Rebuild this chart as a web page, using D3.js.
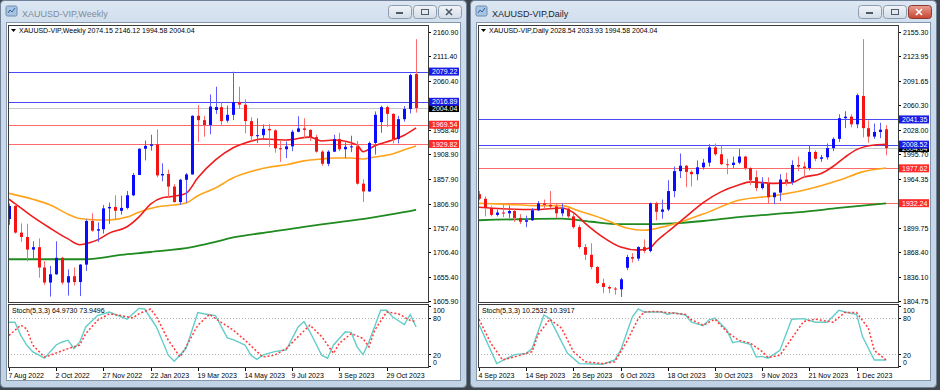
<!DOCTYPE html>
<meta charset="utf-8">
<script src="https://d3js.org/d3.v7.min.js"></script>
<style>
  body { margin: 0; background: #3e454d; }
  text { font-family: "Liberation Sans", Arial, sans-serif; }
</style>
<svg id="chart" width="940" height="390"></svg>
<script>

// ---------------- weekly chart data ----------------
var weeklyOpen  = [1775,1802,1747,1738,1712,1717,1675,1644,1661,1695, 1644,1657,1645,1681,1771,1751,1754,1797,1800,1792,
                   1798,1824,1866,1920,1926,1929,1865,1868,1842,1810, 1856,1867,1988,1979,1969,2000,2006,1978,1990,2016,
                   2011,1977,1946,1948,1961,1958,1921,1919,1925,1955, 1962,1959,1944,1914,1889,1914,1940,1919,1924,1925,
                   1848,1832,1932,1975,2006,1992,1940,1981,2002,2074.15];
var weeklyHigh  = [1807,1806,1766,1765,1729,1735,1688,1678,1729,1697, 1671,1675,1682,1774,1787,1768,1804,1809,1824,1823,
                   1833,1870,1921,1937,1949,1960,1890,1877,1847,1858, 1870,1989,2010,1988,2032,2048,2015,2009,2079,2048,
                   2022,1985,1983,1970,1971,1960,1936,1935,1959,1987, 1983,1960,1949,1917,1917,1949,1953,1933,1947,1936,
                   1857,1935,1997,2009,2009,1993,1988,2008,2075,2146.12];
var weeklyLow   = [1763,1745,1728,1688,1691,1654,1639,1615,1660,1640, 1617,1638,1616,1668,1749,1728,1745,1765,1774,1784,
                   1795,1822,1866,1896,1916,1861,1853,1819,1809,1804, 1809,1867,1934,1945,1950,1992,1969,1974,1979,2002,
                   1952,1936,1932,1939,1924,1912,1893,1901,1915,1954, 1942,1936,1912,1885,1884,1913,1915,1901,1913,1846,
                   1810,1831,1908,1953,1965,1931,1931,1976,1993,1994.58];
var weeklyClose = [1802,1747,1738,1712,1717,1675,1644,1661,1695,1644, 1657,1645,1681,1771,1751,1754,1797,1800,1792,1798,
                   1824,1866,1920,1926,1929,1865,1868,1842,1810,1856, 1867,1988,1979,1969,2007,2006,1977,1990,2016,2011,
                   1977,1946,1948,1961,1958,1921,1920,1925,1955,1962, 1959,1944,1914,1889,1914,1940,1919,1924,1925,1848,
                   1832,1932,1990,2006,1992,1940,1981,2002,2072,2004.04];

// moving averages, [bar index, price]
var weeklyMaFast = [[0,1816],[2,1798],[4,1780],[7,1756],[10,1734],[12,1722],[13,1724],[15,1732],[17,1746],[20,1759],
                    [22,1779],[24,1806],[26,1819],[28,1822],[30,1828],[32,1860],[35,1897],[38,1922],[40,1932],[43,1940],
                    [47,1938],[51,1944],[53,1936],[55,1938],[59,1928],[60,1914],[62,1926],[65,1938],[67,1948],[69,1963]];
var weeklyMaMid  = [[0,1828],[4,1816],[7,1804],[10,1785],[12,1776],[15,1773],[17,1773],[20,1779],[22,1789],[25,1800],
                    [28,1804],[30,1808],[32,1823],[35,1839],[38,1860],[41,1873],[44,1882],[47,1887],[50,1895],[53,1899],
                    [55,1901],[58,1901],[60,1899],[62,1903],[65,1909],[67,1918],[69,1926]];
var weeklyMaSlow = [[0,1692],[13,1692],[19,1701],[24,1707],[31,1717],[35,1728],[38,1737],[44,1748],[50,1759],[55,1767],
                    [61,1777],[65,1785],[69,1794]];

var weeklyStochMain = [[0,73],[1,73],[2,51],[3,35],[4,24],[6,13],[8,35],[9,40],[10,43],[11,29],[12,40],[13,65],[15,84],
                       [17,90],[20,78],[22,96],[23,95],[25,65],[27,18],[28,8],[30,29],[32,89],[33,87],[35,84],[37,47],
                       [38,44],[40,35],[41,18],[42,11],[43,18],[45,24],[47,27],[49,65],[50,74],[51,57],[53,18],[54,13],
                       [55,35],[57,57],[58,56],[59,32],[60,19],[61,40],[63,93],[64,93],[65,82],[67,69],[68,86],[69,65]];
var weeklyStochSignal = [[0,51],[2,68],[3,62],[4,35],[6,15],[7,18],[10,29],[12,35],[13,54],[15,76],[17,87],[19,84],
                         [21,80],[22,87],[24,95],[25,82],[27,43],[29,15],[30,32],[32,68],[34,86],[35,79],[38,60],[40,43],
                         [43,15],[45,18],[47,29],[49,49],[51,68],[53,49],[55,21],[56,38],[58,54],[60,46],[61,32],[62,60],
                         [64,90],[66,87],[68,76],[69,74]];

var weeklyPriceTicks = [2160.90,2111.40,2060.40,2009.40,1958.40,1908.90,1857.90,1806.90,1757.40,1706.40,1655.40,1605.90];
var weeklyDateLabels = ["7 Aug 2022","2 Oct 2022","27 Nov 2022","22 Jan 2023","19 Mar 2023","14 May 2023","9 Jul 2023","3 Sep 2023","29 Oct 2023"];
var weeklyBlueLevels = [2079.22, 2016.89];
var weeklyRedLevels  = [1969.54, 1929.82];

// ---------------- daily chart data ----------------
var dailyOpen  = [1944,1938,1926,1917,1920,1919,1922,1913,1908,1910, 1923,1932,1930,1928,1919,1925,1915,1901,1875,1865,
                  1849,1828,1823,1821,1820,1848,1862,1860,1875,1870, 1932,1921,1924,1948,1974,1981,1973,1970,1979,1985,
                  2005,1996,1983,1982,1985,1993,1978,1966,1952,1958, 1940,1946,1963,1960,1982,1980,1978,1999,1990,1992,
                  2004,2016,2043,2045,2035,2072,2030,2019,2025,2028.54];
var dailyHigh  = [1948,1941,1929,1924,1930,1929,1925,1918,1916,1926, 1935,1937,1948,1932,1932,1926,1918,1904,1879,1880,
                  1850,1834,1825,1823,1835,1865,1867,1876,1885,1933, 1934,1937,1962,1980,1997,1982,1975,1988,1990,2009,
                  2010,2007,1990,1993,2003,1994,1979,1975,1966,1966, 1946,1970,1972,1988,1993,1986,2007,2001,1995,2010,
                  2018,2048,2052,2048,2075,2146,2040,2036,2037,2033.93];
var dailyLow   = [1936,1915,1915,1915,1914,1913,1908,1905,1901,1909, 1922,1926,1925,1913,1915,1913,1899,1873,1858,1846,
                  1827,1815,1815,1813,1810,1845,1855,1857,1867,1868, 1910,1912,1922,1940,1965,1953,1954,1962,1976,1980,
                  1994,1982,1970,1978,1983,1975,1956,1948,1950,1932, 1931,1935,1955,1956,1974,1965,1975,1987,1986,1989,
                  2000,2012,2030,2031,2030,2018,2011,2016,2017,1994.58];
var dailyClose = [1938,1926,1917,1920,1919,1922,1913,1908,1910,1923, 1932,1930,1928,1919,1925,1915,1901,1875,1865,1849,
                  1828,1823,1821,1820,1833,1862,1860,1875,1870,1932, 1921,1924,1948,1974,1981,1973,1970,1979,1985,2005,
                  1996,1983,1982,1985,1993,1978,1962,1952,1958,1940, 1946,1963,1960,1982,1980,1978,1999,1990,1992,2004,
                  2016,2043,2045,2035,2073,2030,2019,2025,2028,2004.04];

var dailyMaFast = [[0,1927],[4,1925],[10,1924],[14,1926],[16,1920],[18,1906],[21,1888],[24,1875],[27,1871],[29,1874],
                   [30,1882],[32,1895],[35,1914],[38,1933],[41,1947],[44,1956],[46,1960],[50,1958],[53,1959],[55,1966],
                   [58,1971],[60,1980],[62,1992],[64,2002],[67,2008],[69,2009]];
var dailyMaMid  = [[0,1932],[4,1931],[10,1929],[14,1929],[17,1922],[21,1912],[25,1900],[28,1897],[31,1901],[35,1910],
                   [38,1918],[44,1936],[50,1942],[55,1949],[61,1962],[65,1973],[69,1978]];
var dailyMaSlow = [[0,1910],[14,1912],[19,1908],[24,1905],[29,1905],[33,1906],[38,1909],[44,1914],[50,1918],[55,1921],
                   [61,1926],[69,1932]];

var dailyStochMain = [[0,69],[3,4],[6,19],[8,21],[9,29],[11,85],[12,79],[15,21],[17,4],[21,3],[23,10],[24,26],[26,82],
                      [27,95],[28,90],[31,90],[32,86],[33,89],[35,85],[36,73],[38,67],[39,77],[40,80],[42,60],[43,39],
                      [44,41],[46,36],[47,15],[48,16],[49,13],[51,26],[53,78],[55,79],[57,73],[59,73],[61,93],[62,90],
                      [64,86],[65,49],[67,10],[69,10]];
var dailyStochSignal = [[0,78],[2,38],[4,10],[7,18],[9,24],[10,52],[12,78],[14,63],[16,24],[18,7],[21,4],[23,7],[25,40],
                        [27,79],[28,90],[30,91],[32,89],[35,86],[36,77],[38,68],[40,78],[42,57],[44,43],[46,38],[48,24],
                        [49,14],[51,18],[53,46],[55,74],[57,78],[60,73],[62,89],[64,89],[66,63],[67,26],[69,10]];

var dailyPriceTicks = [2155.30,2123.95,2091.65,2060.30,2028.00,1995.70,1964.35,1932.05,1899.75,1868.40,1836.10,1804.75];
var dailyDateLabels = ["4 Sep 2023","14 Sep 2023","26 Sep 2023","6 Oct 2023","18 Oct 2023","30 Oct 2023","9 Nov 2023","21 Nov 2023","1 Dec 2023"];
var dailyBlueLevels = [2041.35, 2008.52];
var dailyRedLevels  = [1977.62, 1932.24];

var bidPrice = 2004.04;
var stochLevels = [80, 20];

// ---------------- drawing ----------------
var svg = d3.select("#chart");
var defs = svg.append("defs");

var grad = defs.append("linearGradient").attr("id", "frameGrad").attr("x1", 0).attr("y1", 0).attr("x2", 0).attr("y2", 1);
grad.append("stop").attr("offset", "0%").attr("stop-color", "#dce7f3");
grad.append("stop").attr("offset", "8%").attr("stop-color", "#cddbeb");
grad.append("stop").attr("offset", "100%").attr("stop-color", "#c3d3e6");

var btnGrad = defs.append("linearGradient").attr("id", "btnGrad").attr("x1", 0).attr("y1", 0).attr("x2", 0).attr("y2", 1);
btnGrad.append("stop").attr("offset", "0%").attr("stop-color", "#f2f5f9");
btnGrad.append("stop").attr("offset", "100%").attr("stop-color", "#d3dce7");

var closeGrad = defs.append("linearGradient").attr("id", "closeGrad").attr("x1", 0).attr("y1", 0).attr("x2", 0).attr("y2", 1);
closeGrad.append("stop").attr("offset", "0%").attr("stop-color", "#e8a093");
closeGrad.append("stop").attr("offset", "100%").attr("stop-color", "#c7432f");

function drawWindow(ox, cfg) {
  var g = svg.append("g");

  // window frame + title bar
  g.append("rect").attr("x", ox + 0.5).attr("y", 0.5).attr("width", 466).attr("height", 387).attr("rx", 4)
    .attr("fill", "url(#frameGrad)").attr("stroke", "#6f8298");
  g.append("rect").attr("x", ox + 6).attr("y", 6).attr("width", 11).attr("height", 10).attr("rx", 1.5)
    .attr("fill", "#a9c4e0").attr("stroke", "#6c8db3");
  g.append("path").attr("d", "M" + (ox + 8) + ",13 l2,-3 l2,2 l3,-4").attr("fill", "none").attr("stroke", "#2e5f9c");
  g.append("text").attr("x", ox + 22).attr("y", 17).text(cfg.title)
    .style("font-size", "9px").style("fill", cfg.active ? "#1e2630" : "#7e8c9b");

  var btns = [ox + 388, ox + 413, ox + 438];
  btns.forEach(function(bx, k) {
    var isClose = k == 2;
    g.append("rect").attr("x", bx + 0.5).attr("y", 5.5).attr("width", 23).attr("height", 13).attr("rx", 3)
      .attr("fill", isClose && cfg.active ? "url(#closeGrad)" : "url(#btnGrad)")
      .attr("stroke", isClose && cfg.active ? "#8a3a30" : "#8d9cae");
  });
  g.append("rect").attr("x", ox + 396).attr("y", 12).attr("width", 7).attr("height", 2).attr("fill", "#4d5a68");
  g.append("rect").attr("x", ox + 421.5).attr("y", 9.5).attr("width", 7).attr("height", 5).attr("fill", "none").attr("stroke", "#4d5a68");
  g.append("path").attr("d", "M" + (ox + 446) + ",9 l6,6 M" + (ox + 452) + ",9 l-6,6")
    .attr("stroke", cfg.active ? "#fff" : "#4d5a68").attr("stroke-width", 1.6);

  // client area
  g.append("rect").attr("x", ox + 6.5).attr("y", 22.5).attr("width", 454).attr("height", 358)
    .attr("fill", "#fff").attr("stroke", "#8396ab");

  var left = ox + 8, right = ox + 428;
  var mainTop = 25, mainBottom = 302, stTop = 304, stBottom = 367;

  var x = d3.scaleLinear().domain([0, 69]).range([ox + 9, ox + 9 + 69 * 5.9]);
  var y = d3.scaleLinear().domain(cfg.priceDomain).range([301, 32]);
  var ys = d3.scaleLinear().domain([0, 100]).range([366, 306]);

  var clipId = "clip" + ox;
  defs.append("clipPath").attr("id", clipId).append("rect")
    .attr("x", left + 1).attr("y", mainTop).attr("width", right - left - 1).attr("height", mainBottom - mainTop);
  var clipSt = "clipst" + ox;
  defs.append("clipPath").attr("id", clipSt).append("rect")
    .attr("x", left + 1).attr("y", stTop).attr("width", right - left - 1).attr("height", stBottom - stTop);

  // price axis labels (a label sitting under a price box is hidden, as in the terminal)
  var boxLevels = [bidPrice].concat(cfg.blueLevels, cfg.redLevels);
  var ax = g.append("g");
  cfg.priceTicks.forEach(function(p) {
    var py = Math.round(y(p)) + 0.5;
    ax.append("line").attr("x1", right).attr("x2", right + 3).attr("y1", py).attr("y2", py).attr("stroke", "#000");
    var covered = boxLevels.some(function(b) { return Math.abs(y(b) - y(p)) < 5; });
    if (!covered)
      ax.append("text").attr("x", right + 5).attr("y", py + 2.5).text(p.toFixed(2)).style("font-size", "7px").style("fill", "#000");
  });

  // horizontal levels
  var plot = g.append("g").attr("clip-path", "url(#" + clipId + ")");
  function hline(p, color) {
    var py = Math.round(y(p)) + 0.5;
    plot.append("line").attr("x1", left).attr("x2", right).attr("y1", py).attr("y2", py)
      .attr("stroke", color).attr("stroke-width", 1);
  }
  hline(bidPrice, "#c8c8c8");
  cfg.blueLevels.forEach(function(p) { hline(p, "#4a4af5"); });
  cfg.redLevels.forEach(function(p) { hline(p, "#ff6a6a"); });

  // moving averages
  var maLine = d3.line().x(function(d) { return x(d[0]); }).y(function(d) { return y(d[1]); }).curve(d3.curveMonotoneX);
  plot.append("path").attr("d", maLine(cfg.maSlow)).attr("fill", "none").attr("stroke", "#1f8a1f").attr("stroke-width", 1.8);
  plot.append("path").attr("d", maLine(cfg.maMid)).attr("fill", "none").attr("stroke", "#ffa31a").attr("stroke-width", 1.6);
  plot.append("path").attr("d", maLine(cfg.maFast)).attr("fill", "none").attr("stroke", "#ee1c1c").attr("stroke-width", 1.6);

  // candles
  d3.range(cfg.open.length).forEach(function(i) {
    var o = cfg.open[i], h = cfg.high[i], l = cfg.low[i], c = cfg.close[i];
    var up = c >= o;
    var cx = Math.round(x(i));
    plot.append("line").attr("x1", cx + 0.5).attr("x2", cx + 0.5)
      .attr("y1", y(h)).attr("y2", y(l))
      .attr("stroke", up ? "#5b5bff" : "#ff6b6b").attr("stroke-width", 1);
    var y0 = y(Math.max(o, c)), y1 = y(Math.min(o, c));
    plot.append("rect").attr("x", cx - 1).attr("width", 3)
      .attr("y", y0).attr("height", Math.max(1, y1 - y0))
      .attr("fill", up ? "#0b0bff" : "#f41414");
  });

  // price boxes on the axis
  function box(p, fill) {
    var py = y(p);
    ax.append("rect").attr("x", right + 1).attr("y", py - 4).attr("width", 30).attr("height", 8).attr("fill", fill);
    ax.append("text").attr("x", right + 4).attr("y", py + 2.5).text(p.toFixed(2))
      .style("font-size", "7px").style("fill", "#fff");
  }
  box(bidPrice, "#000");
  cfg.redLevels.forEach(function(p) { box(p, "#ff2a2a"); });
  cfg.blueLevels.forEach(function(p) { box(p, "#1a1ae6"); });

  // pane borders
  g.append("rect").attr("x", left + 0.5).attr("y", mainTop + 0.5).attr("width", right - left).attr("height", mainBottom - mainTop)
    .attr("fill", "none").attr("stroke", "#3a3a3a");
  g.append("rect").attr("x", left + 0.5).attr("y", stTop + 0.5).attr("width", right - left).attr("height", stBottom - stTop)
    .attr("fill", "none").attr("stroke", "#3a3a3a");

  // chart caption
  g.append("path").attr("d", "M" + (left + 3) + ",29 h5 l-2.5,3 z").attr("fill", "#000");
  g.append("text").attr("x", left + 11).attr("y", 33).text(cfg.caption).style("font-size", "7px").style("fill", "#000");

  // stochastic pane
  var st = g.append("g").attr("clip-path", "url(#" + clipSt + ")");
  stochLevels.forEach(function(v) {
    st.append("line").attr("x1", left).attr("x2", right).attr("y1", Math.round(ys(v)) + 0.5).attr("y2", Math.round(ys(v)) + 0.5)
      .attr("stroke", "#b4b4b4").attr("stroke-dasharray", "1,2");
  });
  var stLine = d3.line().x(function(d) { return x(d[0]); }).y(function(d) { return ys(d[1]); });
  st.append("path").attr("d", stLine(cfg.stochMain)).attr("fill", "none").attr("stroke", "#63cdc8").attr("stroke-width", 1.4);
  st.append("path").attr("d", stLine(cfg.stochSignal)).attr("fill", "none").attr("stroke", "#ff3b3b")
    .attr("stroke-width", 1.5).attr("stroke-dasharray", "2,2");
  g.append("text").attr("x", left + 4).attr("y", 313).text(cfg.stochCaption).style("font-size", "7px").style("fill", "#000");

  [[100, 310], [80, 318], [20, 355], [0, 362]].forEach(function(t) {
    var ty = Math.round(ys(t[0])) + 0.5;
    ax.append("line").attr("x1", right).attr("x2", right + 3).attr("y1", ty).attr("y2", ty).attr("stroke", "#000");
    ax.append("text").attr("x", right + 5).attr("y", t[1] + 2.5).text(t[0]).style("font-size", "7px").style("fill", "#000");
  });

  // date axis
  cfg.dateLabels.forEach(function(lab, k) {
    var tx = Math.round(x(k * 8)) + 0.5;
    ax.append("line").attr("x1", tx).attr("x2", tx).attr("y1", stBottom).attr("y2", stBottom + 4).attr("stroke", "#000");
    ax.append("text").attr("x", tx - 1).attr("y", 378).text(lab).style("font-size", "7px").style("fill", "#000");
  });
}

drawWindow(0, {
  title: "XAUUSD-VIP,Weekly", active: false,
  caption: "XAUUSD-VIP,Weekly  2074.15 2146.12 1994.58 2004.04",
  stochCaption: "Stoch(5,3,3) 64.9730 73.9496",
  priceDomain: [1605.90, 2160.90], priceTicks: weeklyPriceTicks,
  open: weeklyOpen, high: weeklyHigh, low: weeklyLow, close: weeklyClose,
  maFast: weeklyMaFast, maMid: weeklyMaMid, maSlow: weeklyMaSlow,
  stochMain: weeklyStochMain, stochSignal: weeklyStochSignal,
  blueLevels: weeklyBlueLevels, redLevels: weeklyRedLevels, dateLabels: weeklyDateLabels
});

drawWindow(470, {
  title: "XAUUSD-VIP,Daily", active: true,
  caption: "XAUUSD-VIP,Daily  2028.54 2033.93 1994.58 2004.04",
  stochCaption: "Stoch(5,3,3) 10.2532 10.3917",
  priceDomain: [1804.75, 2155.30], priceTicks: dailyPriceTicks,
  open: dailyOpen, high: dailyHigh, low: dailyLow, close: dailyClose,
  maFast: dailyMaFast, maMid: dailyMaMid, maSlow: dailyMaSlow,
  stochMain: dailyStochMain, stochSignal: dailyStochSignal,
  blueLevels: dailyBlueLevels, redLevels: dailyRedLevels, dateLabels: dailyDateLabels
});

</script>
